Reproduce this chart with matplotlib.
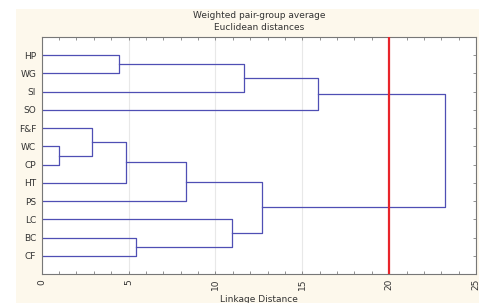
import matplotlib
matplotlib.use("Agg")
import matplotlib.pyplot as plt
from matplotlib.patches import Rectangle
from matplotlib.ticker import MultipleLocator

# leaves, top to bottom
labels = ['HP', 'WG', 'SI', 'SO', 'F&F', 'WC', 'CP', 'HT', 'PS', 'LC', 'BC', 'CF']

# merges: (left cluster, right cluster, linkage distance)
merges = [
    ('HP', 'WG', 4.45),
    ('WC', 'CP', 1.0),
    ('F&F', 'WC+CP', 2.9),
    ('F&F+WC+CP', 'HT', 4.85),
    ('F&F+WC+CP+HT', 'PS', 8.3),
    ('BC', 'CF', 5.45),
    ('LC', 'BC+CF', 10.95),
    ('HP+WG', 'SI', 11.65),
    ('HP+WG+SI', 'SO', 15.9),
    ('F&F+WC+CP+HT+PS', 'LC+BC+CF', 12.7),
    ('HP+WG+SI+SO', 'F&F+WC+CP+HT+PS+LC+BC+CF', 23.2),
]
cut_distance = 20

line_col = '#4f4fb4'

fig = plt.figure(figsize=(4.79, 3.03), dpi=100)
fig.patches.append(Rectangle((16 / 479, 0), 1, 1 - 9 / 303, transform=fig.transFigure,
                             facecolor='#fdf8ec', edgecolor='none', zorder=-10))
ax = fig.add_axes([41.7 / 479, 1 - 274 / 303, (476 - 41.7) / 479, (274 - 37) / 303])

n = len(labels)
pos = {lab: n - i for i, lab in enumerate(labels)}
height = {lab: 0.0 for lab in labels}
for a, b, d in merges:
    ya, yb = pos[a], pos[b]
    ax.plot([height[a], d, d, height[b]], [ya, ya, yb, yb], color=line_col, lw=0.9)
    key = a + '+' + b
    pos[key] = (ya + yb) / 2
    height[key] = d

ax.axvline(cut_distance, color='#e8242a', lw=1.6, zorder=3)

ax.set_xlim(0, 25)
ax.set_ylim(0, n + 1)
ax.set_xticks([0, 5, 10, 15, 20, 25])
ax.set_xticklabels(['0', '5', '10', '15', '20', '25'], rotation=90, fontsize=6.5, color='#333333')
ax.xaxis.set_minor_locator(MultipleLocator(1))
ax.set_yticks([n - i for i in range(n)])
ax.set_yticklabels(labels, fontsize=6.5, color='#333333')
ax.tick_params(axis='x', which='both', direction='in', top=True, length=2, width=0.5, colors='#666666',
               labelcolor='#333333')
ax.tick_params(axis='y', which='both', direction='in', right=True, left=False, length=2, width=0.5,
               colors='#666666', labelcolor='#333333', pad=4)
ax.grid(axis='x', which='major', color='#e8e8e8', lw=0.8)
ax.set_axisbelow(True)
for s in ax.spines.values():
    s.set_color('#777777')
    s.set_linewidth(0.8)

ax.set_title('Weighted pair-group average\nEuclidean distances', fontsize=6.5, color='#333333',
             pad=5, linespacing=1.4)
ax.set_xlabel('Linkage Distance', fontsize=6.5, color='#333333', labelpad=3)

fig.savefig('out.png', dpi=100)
